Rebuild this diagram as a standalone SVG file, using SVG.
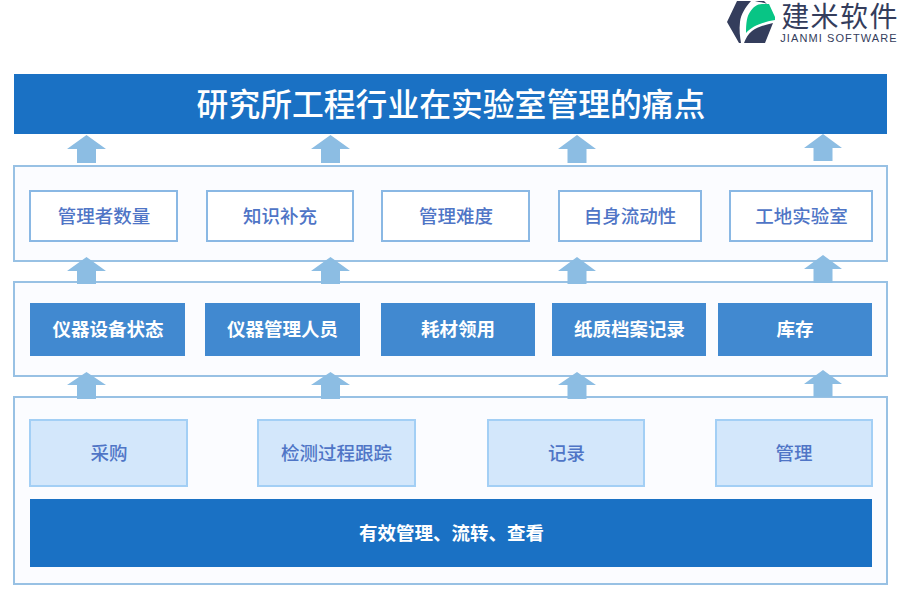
<svg xmlns="http://www.w3.org/2000/svg" width="900" height="600" viewBox="0 0 900 600">
<style>
text{font-family:"Noto Sans CJK SC","Noto Sans",sans-serif;text-anchor:middle;dominant-baseline:central}
.panel{fill:#fbfcff;stroke:#98c1e4;stroke-width:2}
.w{fill:#fff;stroke:#8ab8e4;stroke-width:2}
.m{fill:#4189d0}
.l{fill:#d3e7fb;stroke:#a3cff5;stroke-width:2}
.t{font-size:18.500px;fill:#4f75c6;font-weight:500}
.tw{font-size:18.500px;fill:#fff;font-weight:700}
.ar{fill:#8cbde3}
</style>
<rect width="900" height="600" fill="#fff"/>
<g id="logo">
<path d="M737 1H751C745 8 741 14 740 22C739 30 740 37 741 43H739L727 22Z" fill="#343d5c"/>
<path d="M755 1H764L767 4C762 2 758 2 755 1Z" fill="#343d5c"/>
<path d="M746 33C746 23 747 16 750 12C753 7 757 4 762 4H769L775 17V20C763 22 752 26 746 33Z" fill="#08c585"/>
<path d="M744 43C746 38 748 34 752 31C757 27 764 25 773 23L765 43Z" fill="#343d5c"/>
<text x="840" y="15" style="font-size:28px;fill:#343d5c;letter-spacing:1.400px;font-weight:400">建米软件</text>
<text x="839" y="38" style="font-family:'Liberation Sans',sans-serif;font-size:11px;letter-spacing:1.100px;fill:#343d5c">JIANMI SOFTWARE</text>
</g>
<g id="title"><rect x="14" y="74" width="873" height="60" fill="#1a71c4"/><text x="451" y="101.500" style="font-size:31.800px;fill:#fff;font-weight:500">研究所工程行业在实验室管理的痛点</text></g>
<g id="panels">
<rect class="panel" x="14" y="166" width="873" height="95"/>
<rect class="panel" x="14" y="282" width="873" height="94"/>
<rect class="panel" x="14" y="397" width="873" height="187"/>
</g>
<g id="connectors" class="ar">
<path d="M86.500 135L106 149H96V163H77V149H67Z"/>
<path d="M330.500 135L350 149H340V163H321V149H311Z"/>
<path d="M577 135L596 149H586.500V163H567.500V149H558Z"/>
<path d="M823 134L842 148H832.500V161H813.500V148H804Z"/>
<path d="M86.500 257L106 271H96V284H77V271H67Z"/>
<path d="M330.500 257L350 271H340V284H321V271H311Z"/>
<path d="M577 257L596 271H586.500V284H567.500V271H558Z"/>
<path d="M823 255L842 269H832.500V283H813.500V269H804Z"/>
<path d="M86.500 372L106 385H96V399H77V385H67Z"/>
<path d="M330.500 372L350 385H340V399H321V385H311Z"/>
<path d="M577 372L596 385H586.500V399H567.500V385H558Z"/>
<path d="M823 370L842 384H832.500V397H813.500V384H804Z"/>
</g>
<g id="n1"><rect class="w" x="30" y="191" width="147" height="50"/><text class="t" x="104" y="215">管理者数量</text></g>
<g id="n2"><rect class="w" x="207" y="191" width="146" height="50"/><text class="t" x="280" y="215">知识补充</text></g>
<g id="n3"><rect class="w" x="382" y="191" width="147" height="50"/><text class="t" x="456" y="215">管理难度</text></g>
<g id="n4"><rect class="w" x="559" y="191" width="142" height="50"/><text class="t" x="630" y="215">自身流动性</text></g>
<g id="n5"><rect class="w" x="730" y="191" width="142" height="50"/><text class="t" x="801.500" y="215">工地实验室</text></g>
<g id="m1"><rect class="m" x="30" y="303" width="155" height="53"/><text class="tw" x="108" y="328">仪器设备状态</text></g>
<g id="m2"><rect class="m" x="205" y="303" width="155" height="53"/><text class="tw" x="282.500" y="328">仪器管理人员</text></g>
<g id="m3"><rect class="m" x="381" y="303" width="154" height="53"/><text class="tw" x="458" y="328">耗材领用</text></g>
<g id="m4"><rect class="m" x="552" y="303" width="154" height="53"/><text class="tw" x="629.500" y="328">纸质档案记录</text></g>
<g id="m5"><rect class="m" x="718" y="303" width="154" height="53"/><text class="tw" x="795" y="328">库存</text></g>
<g id="l1"><rect class="l" x="30" y="420" width="157" height="66"/><text class="t" x="109" y="452">采购</text></g>
<g id="l2"><rect class="l" x="258" y="420" width="157" height="66"/><text class="t" x="336.500" y="452">检测过程跟踪</text></g>
<g id="l3"><rect class="l" x="488" y="420" width="156" height="66"/><text class="t" x="566.500" y="452">记录</text></g>
<g id="l4"><rect class="l" x="716" y="420" width="156" height="66"/><text class="t" x="794" y="452">管理</text></g>
<g id="base"><rect x="30" y="499" width="842" height="68" fill="#1a71c4"/><text class="tw" x="451.500" y="532">有效管理、流转、查看</text></g>
</svg>
